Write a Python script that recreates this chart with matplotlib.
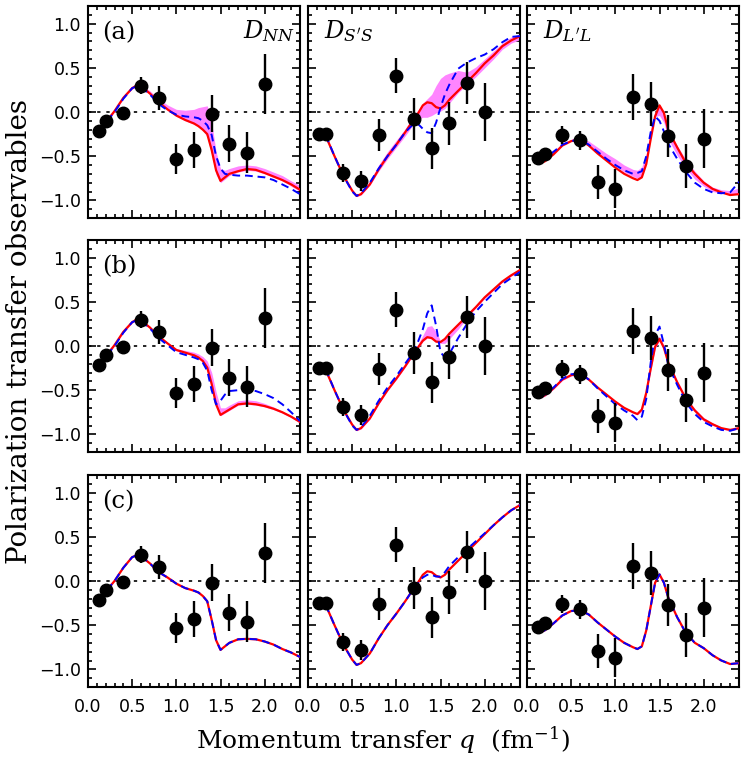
import numpy as np
import matplotlib
matplotlib.use('Agg')
import matplotlib.pyplot as plt
from matplotlib.ticker import MultipleLocator, FixedLocator

plt.rcParams['mathtext.fontset'] = 'dejavuserif'
plt.rcParams['font.family'] = ['DejaVu Sans']

# ---------------- experimental data (same in every row) ----------------
q_data = [0.13, 0.2, 0.4, 0.6, 0.8, 1.0, 1.2, 1.4, 1.6, 1.8, 2.0]
dnn_data = [-0.215, -0.10, -0.01, 0.30, 0.16, -0.53, -0.43, -0.02, -0.36, -0.46, 0.32]
dnn_err = [0.03, 0.03, 0.03, 0.10, 0.14, 0.17, 0.20, 0.21, 0.21, 0.23, 0.34]
dss_data = [-0.25, -0.25, -0.69, -0.78, -0.26, 0.41, -0.08, -0.41, -0.13, 0.33, 0.0]
dss_err = [0.03, 0.03, 0.10, 0.11, 0.18, 0.20, 0.24, 0.23, 0.24, 0.24, 0.33]
dll_data = [-0.52, -0.47, -0.26, -0.32, -0.79, -0.87, 0.17, 0.09, -0.27, -0.61, -0.30]
dll_err = [0.03, 0.03, 0.10, 0.11, 0.19, 0.22, 0.26, 0.25, 0.24, 0.25, 0.33]

# ---------------- theory curves ----------------
q_nn = [0.12, 0.2, 0.3, 0.4, 0.5, 0.55, 0.6, 0.7, 0.8, 0.9, 1.0, 1.1, 1.2, 1.25, 1.3,
        1.35, 1.4, 1.45, 1.5, 1.55, 1.6, 1.7, 1.8, 1.9, 2.0, 2.1, 2.2, 2.3, 2.4]
q_ss = [0.2, 0.3, 0.4, 0.5, 0.55, 0.6, 0.7, 0.8, 0.9, 1.0, 1.1, 1.2, 1.25, 1.3,
        1.35, 1.4, 1.45, 1.5, 1.55, 1.6, 1.7, 1.8, 1.9, 2.0, 2.1, 2.2, 2.3, 2.4]
q_ll = [0.15, 0.2, 0.3, 0.4, 0.5, 0.6, 0.7, 0.8, 0.9, 1.0, 1.1, 1.2, 1.25, 1.3,
        1.35, 1.4, 1.45, 1.5, 1.55, 1.6, 1.7, 1.8, 1.9, 2.0, 2.1, 2.2, 2.3, 2.4]

# row (a)
red_a_nn = [-0.21, -0.12, 0.01, 0.16, 0.27, 0.30, 0.29, 0.21, 0.11, 0.03, -0.04, -0.09, -0.13, -0.16, -0.20,
            -0.25, -0.43, -0.66, -0.78, -0.74, -0.70, -0.67, -0.645, -0.655, -0.69, -0.73, -0.77, -0.82, -0.88]
blue_a_nn = [-0.21, -0.12, 0.0, 0.15, 0.27, 0.29, 0.28, 0.20, 0.09, 0.02, -0.03, -0.05, -0.06, -0.07, -0.10,
             -0.15, -0.26, -0.50, -0.64, -0.70, -0.71, -0.72, -0.72, -0.73, -0.74, -0.77, -0.82, -0.87, -0.93]
band_lo_a_nn = [-0.23, -0.13, 0.0, 0.15, 0.26, 0.29, 0.28, 0.20, 0.10, 0.02, -0.05, -0.10, -0.14, -0.17, -0.21,
                -0.28, -0.48, -0.71, -0.80, -0.76, -0.72, -0.68, -0.66, -0.67, -0.70, -0.74, -0.78, -0.84, -0.90]
band_hi_a_nn = [-0.19, -0.11, 0.02, 0.18, 0.29, 0.31, 0.31, 0.24, 0.15, 0.08, 0.03, 0.02, 0.03, 0.05, 0.06,
                0.07, -0.12, -0.45, -0.64, -0.66, -0.64, -0.61, -0.60, -0.61, -0.64, -0.68, -0.72, -0.78, -0.83]

red_a_ss = [-0.27, -0.50, -0.72, -0.89, -0.95, -0.93, -0.82, -0.65, -0.50, -0.37, -0.23, -0.08, -0.01, 0.075,
            0.11, 0.10, 0.055, 0.04, 0.075, 0.14, 0.24, 0.34, 0.44, 0.55, 0.64, 0.745, 0.81, 0.86]
blue_a_ss = [-0.26, -0.50, -0.72, -0.90, -0.95, -0.92, -0.80, -0.64, -0.50, -0.37, -0.23, -0.13, -0.14, -0.19,
             -0.23, -0.24, -0.12, 0.05, 0.20, 0.31, 0.49, 0.56, 0.61, 0.65, 0.71, 0.79, 0.85, 0.86]
band_lo_a_ss = [-0.27, -0.51, -0.73, -0.90, -0.96, -0.94, -0.83, -0.67, -0.53, -0.40, -0.27, -0.13, -0.08, -0.06,
                -0.06, -0.04, -0.01, 0.01, 0.04, 0.10, 0.22, 0.31, 0.40, 0.50, 0.60, 0.71, 0.78, 0.82]
band_hi_a_ss = [-0.25, -0.49, -0.71, -0.88, -0.94, -0.91, -0.78, -0.60, -0.45, -0.32, -0.19, -0.04, 0.03, 0.10,
                0.15, 0.20, 0.30, 0.38, 0.42, 0.44, 0.47, 0.45, 0.51, 0.60, 0.69, 0.78, 0.85, 0.88]

red_a_ll = [-0.58, -0.56, -0.48, -0.38, -0.33, -0.31, -0.38, -0.47, -0.55, -0.63, -0.70, -0.75, -0.77, -0.74,
            -0.59, -0.31, -0.05, 0.075, -0.01, -0.21, -0.40, -0.58, -0.70, -0.80, -0.87, -0.91, -0.94, -0.93]
blue_a_ll = [-0.55, -0.52, -0.45, -0.37, -0.33, -0.31, -0.37, -0.45, -0.53, -0.60, -0.66, -0.70, -0.69, -0.67,
             -0.50, -0.23, -0.05, -0.10, -0.22, -0.36, -0.53, -0.68, -0.80, -0.87, -0.91, -0.92, -0.91, -0.79]
band_lo_a_ll = [-0.57, -0.55, -0.47, -0.37, -0.33, -0.31, -0.37, -0.46, -0.54, -0.61, -0.68, -0.73, -0.75, -0.72,
                -0.56, -0.29, -0.05, -0.04, -0.12, -0.31, -0.49, -0.64, -0.76, -0.84, -0.90, -0.92, -0.93, -0.92]
band_hi_a_ll = [-0.55, -0.52, -0.45, -0.35, -0.31, -0.29, -0.33, -0.40, -0.47, -0.53, -0.60, -0.65, -0.66, -0.62,
                -0.47, -0.20, 0.0, 0.07, -0.02, -0.20, -0.38, -0.54, -0.67, -0.78, -0.85, -0.88, -0.89, -0.86]

# row (b)
red_b_nn = [-0.21, -0.12, 0.01, 0.16, 0.27, 0.30, 0.29, 0.21, 0.11, 0.03, -0.045, -0.075, -0.105, -0.13, -0.17,
            -0.245, -0.43, -0.66, -0.78, -0.75, -0.72, -0.66, -0.65, -0.66, -0.68, -0.71, -0.75, -0.80, -0.86]
blue_b_nn = [-0.21, -0.12, 0.0, 0.15, 0.27, 0.29, 0.28, 0.20, 0.09, 0.01, -0.07, -0.10, -0.13, -0.15, -0.19,
             -0.28, -0.50, -0.66, -0.62, -0.55, -0.51, -0.50, -0.50, -0.51, -0.545, -0.59, -0.66, -0.75, -0.85]
band_lo_b_nn = [-0.22, -0.13, 0.0, 0.15, 0.26, 0.29, 0.28, 0.20, 0.10, 0.02, -0.055, -0.085, -0.115, -0.14, -0.18,
                -0.26, -0.45, -0.68, -0.79, -0.76, -0.73, -0.67, -0.66, -0.67, -0.69, -0.72, -0.76, -0.81, -0.87]
band_hi_b_nn = [-0.20, -0.11, 0.02, 0.17, 0.28, 0.31, 0.30, 0.22, 0.12, 0.04, -0.03, -0.05, -0.07, -0.09, -0.12,
                -0.17, -0.30, -0.52, -0.70, -0.70, -0.67, -0.62, -0.61, -0.62, -0.65, -0.69, -0.74, -0.79, -0.85]

red_b_ss = [-0.27, -0.50, -0.72, -0.89, -0.95, -0.93, -0.82, -0.65, -0.50, -0.37, -0.23, -0.08, -0.01, 0.06,
            0.10, 0.09, 0.05, 0.045, 0.08, 0.14, 0.24, 0.34, 0.44, 0.55, 0.64, 0.73, 0.80, 0.86]
blue_b_ss = [-0.26, -0.50, -0.72, -0.90, -0.95, -0.92, -0.79, -0.62, -0.47, -0.34, -0.20, -0.06, 0.06, 0.19,
             0.37, 0.46, 0.23, -0.07, -0.13, -0.09, 0.09, 0.25, 0.39, 0.50, 0.60, 0.70, 0.77, 0.84]
band_lo_b_ss = [-0.28, -0.51, -0.73, -0.90, -0.96, -0.94, -0.83, -0.66, -0.51, -0.38, -0.24, -0.09, -0.02, 0.05,
                0.09, 0.08, 0.04, 0.03, 0.03, 0.08, 0.19, 0.32, 0.43, 0.54, 0.63, 0.72, 0.79, 0.85]
band_hi_b_ss = [-0.26, -0.49, -0.71, -0.88, -0.94, -0.92, -0.81, -0.64, -0.49, -0.36, -0.22, -0.07, 0.03, 0.12,
                0.22, 0.23, 0.16, 0.06, 0.09, 0.15, 0.25, 0.35, 0.45, 0.56, 0.65, 0.74, 0.81, 0.87]

red_b_ll = [-0.58, -0.56, -0.48, -0.38, -0.33, -0.31, -0.38, -0.47, -0.55, -0.63, -0.70, -0.75, -0.77, -0.72,
            -0.53, -0.26, -0.01, 0.08, -0.02, -0.19, -0.41, -0.60, -0.73, -0.83, -0.885, -0.93, -0.95, -0.93]
blue_b_ll = [-0.57, -0.55, -0.47, -0.37, -0.32, -0.31, -0.38, -0.48, -0.57, -0.66, -0.73, -0.79, -0.84, -0.80,
             -0.60, -0.19, 0.12, 0.22, 0.02, -0.22, -0.44, -0.64, -0.77, -0.86, -0.91, -0.95, -0.96, -0.93]
band_lo_b_ll = [-0.59, -0.57, -0.49, -0.39, -0.34, -0.32, -0.39, -0.48, -0.56, -0.64, -0.71, -0.76, -0.78, -0.74,
                -0.56, -0.28, -0.03, 0.06, -0.04, -0.21, -0.43, -0.62, -0.75, -0.85, -0.90, -0.94, -0.96, -0.94]
band_hi_b_ll = [-0.57, -0.55, -0.47, -0.37, -0.32, -0.30, -0.37, -0.46, -0.54, -0.62, -0.69, -0.74, -0.76, -0.70,
                -0.50, -0.17, 0.07, 0.11, 0.01, -0.17, -0.39, -0.58, -0.71, -0.81, -0.87, -0.92, -0.94, -0.92]

# row (c)
red_c_nn = [-0.21, -0.12, 0.0, 0.15, 0.27, 0.29, 0.28, 0.20, 0.10, 0.04, -0.03, -0.08, -0.11, -0.13, -0.17,
            -0.23, -0.44, -0.67, -0.78, -0.74, -0.70, -0.66, -0.655, -0.66, -0.685, -0.72, -0.77, -0.81, -0.86]
blue_c_nn = [-0.21, -0.12, 0.0, 0.15, 0.27, 0.29, 0.28, 0.20, 0.10, 0.04, -0.03, -0.08, -0.11, -0.13, -0.17,
             -0.23, -0.44, -0.67, -0.78, -0.74, -0.70, -0.66, -0.655, -0.66, -0.685, -0.72, -0.77, -0.81, -0.86]
red_c_ss = [-0.27, -0.50, -0.72, -0.89, -0.95, -0.93, -0.82, -0.65, -0.50, -0.37, -0.23, -0.08, -0.01, 0.07,
            0.11, 0.10, 0.06, 0.04, 0.07, 0.13, 0.23, 0.33, 0.43, 0.53, 0.63, 0.72, 0.80, 0.86]
blue_c_ss = [-0.27, -0.50, -0.72, -0.89, -0.95, -0.93, -0.82, -0.65, -0.50, -0.37, -0.23, -0.08, -0.02, 0.04,
             0.07, 0.07, 0.05, 0.05, 0.10, 0.17, 0.27, 0.36, 0.45, 0.54, 0.63, 0.72, 0.80, 0.86]
red_c_ll = [-0.58, -0.56, -0.48, -0.39, -0.34, -0.33, -0.38, -0.47, -0.55, -0.63, -0.70, -0.75, -0.77, -0.74,
            -0.56, -0.29, -0.02, 0.075, -0.02, -0.19, -0.41, -0.59, -0.70, -0.76, -0.84, -0.90, -0.94, -0.93]
blue_c_ll = [-0.58, -0.56, -0.48, -0.39, -0.34, -0.33, -0.38, -0.47, -0.55, -0.63, -0.70, -0.75, -0.77, -0.74,
             -0.56, -0.29, -0.02, 0.075, -0.02, -0.19, -0.41, -0.59, -0.70, -0.76, -0.84, -0.90, -0.94, -0.93]

row_labels = ['(a)', '(b)', '(c)']
obs_labels = [r'$D_{NN}$', r"$D_{S'S}$", r"$D_{L'L}$"]
x_ticks = [0.0, 0.5, 1.0, 1.5, 2.0]
x_tick_labels = ['0.0', '0.5', '1.0', '1.5', '2.0']
y_ticks = [-1.0, -0.5, 0.0, 0.5, 1.0]
y_tick_labels = ['\u22121.0', '\u22120.5', '0.0', '0.5', '1.0']

grids = [q_nn, q_ss, q_ll]
exp_y = [dnn_data, dss_data, dll_data]
exp_e = [dnn_err, dss_err, dll_err]
reds = [[red_a_nn, red_a_ss, red_a_ll], [red_b_nn, red_b_ss, red_b_ll], [red_c_nn, red_c_ss, red_c_ll]]
blues = [[blue_a_nn, blue_a_ss, blue_a_ll], [blue_b_nn, blue_b_ss, blue_b_ll], [blue_c_nn, blue_c_ss, blue_c_ll]]
bands = [[(band_lo_a_nn, band_hi_a_nn), (band_lo_a_ss, band_hi_a_ss), (band_lo_a_ll, band_hi_a_ll)],
         [(band_lo_b_nn, band_hi_b_nn), (band_lo_b_ss, band_hi_b_ss), (band_lo_b_ll, band_hi_b_ll)],
         [None, None, None]]

W, H = 747, 760
fig = plt.figure(figsize=(W / 100, H / 100), dpi=100)
lefts = [88, 308, 527]
tops = [6, 240, 475]
pw, ph = 212, 212

for r in range(3):
    for c in range(3):
        ax = fig.add_axes([lefts[c] / W, 1 - (tops[r] + ph) / H, pw / W, ph / H])
        ax.set_xlim(0, 2.4)
        ax.set_ylim(-1.2, 1.2)
        ax.axhline(0, color='k', ls=(0, (2, 3.5)), lw=1.2, zorder=1)
        q = grids[c]
        if bands[r][c] is not None:
            lo, hi = bands[r][c]
            ax.fill_between(q, lo, hi, color='#FF85FF', lw=0, zorder=2)
        ax.plot(q, reds[r][c], color='#FF0000', lw=1.6, zorder=3)
        ax.plot(q, blues[r][c], color='#0000FF', lw=1.4, ls=(0, (4, 2.5)), zorder=4)
        ax.errorbar(q_data, exp_y[c], yerr=exp_e[c], fmt='o', color='k', ms=9,
                    elinewidth=1.7, capsize=0, zorder=5)

        ax.xaxis.set_major_locator(FixedLocator(x_ticks))
        ax.xaxis.set_minor_locator(MultipleLocator(0.1))
        ax.yaxis.set_major_locator(FixedLocator(y_ticks))
        ax.yaxis.set_minor_locator(MultipleLocator(0.1))
        ax.tick_params(which='both', direction='in', top=True, right=True, width=1.2)
        ax.tick_params(which='major', length=6)
        ax.tick_params(which='minor', length=3)
        ax.tick_params(axis='x', pad=8)
        ax.tick_params(axis='y', pad=5)
        for s in ax.spines.values():
            s.set_linewidth(1.5)
        if r == 2:
            ax.set_xticklabels(x_tick_labels, fontsize=12.5)
        else:
            ax.set_xticklabels([])
        if c == 0:
            ax.set_yticklabels(y_tick_labels, fontsize=12.5)
        else:
            ax.set_yticklabels([])

        if c == 0:
            ax.text(0.065, 0.845, row_labels[r], transform=ax.transAxes, fontsize=17.5,
                    family='DejaVu Serif', va='baseline', ha='left')
        if r == 0:
            if c == 0:
                ax.text(0.975, 0.85, obs_labels[c], transform=ax.transAxes, fontsize=17.5,
                        va='baseline', ha='right')
            else:
                ax.text(0.075, 0.85, obs_labels[c], transform=ax.transAxes, fontsize=17.5,
                        va='baseline', ha='left')

fig.text(383 / W, 1 - 740 / H, r'Momentum transfer $q$  (fm$^{-1}$)', fontsize=18,
         family='DejaVu Serif', ha='center', va='center')
fig.text(20 / W, 1 - 332 / H, 'Polarization transfer observables', fontsize=20,
         family='DejaVu Serif', ha='center', va='center', rotation=90)

fig.savefig('out.png', dpi=100)
